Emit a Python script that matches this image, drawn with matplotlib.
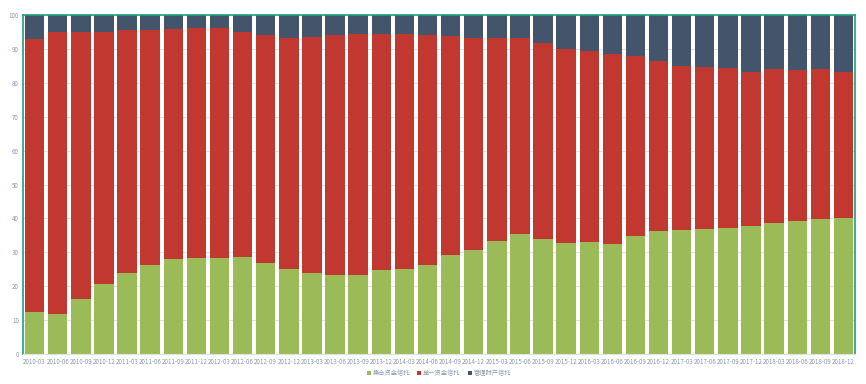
import matplotlib.pyplot as plt
import numpy as np

plt.rcParams['font.family'] = ['Noto Sans CJK SC', 'DejaVu Sans']

quarters = ['2010-03', '2010-06', '2010-09', '2010-12', '2011-03', '2011-06', '2011-09', '2011-12',
            '2012-03', '2012-06', '2012-09', '2012-12', '2013-03', '2013-06', '2013-09', '2013-12',
            '2014-03', '2014-06', '2014-09', '2014-12', '2015-03', '2015-06', '2015-09', '2015-12',
            '2016-03', '2016-06', '2016-09', '2016-12', '2017-03', '2017-06', '2017-09', '2017-12',
            '2018-03', '2018-06', '2018-09', '2018-12']

# 集合资金信托 share (%)
jihe = [12.4, 11.9, 16.3, 20.7, 23.9, 26.3, 28.0, 28.3, 28.3, 28.6, 26.9, 25.1,
        23.9, 23.3, 23.3, 24.8, 25.1, 26.3, 29.2, 30.7, 33.3, 35.4, 33.9, 32.7,
        33.0, 32.5, 34.8, 36.3, 36.6, 36.9, 37.2, 37.7, 38.6, 39.2, 39.8, 40.1]
# cumulative top of 单一资金信托 (%)
danyi_top = [92.9, 95.1, 95.1, 95.1, 95.7, 95.7, 95.9, 96.3, 96.3, 95.1, 94.1, 93.3,
             93.5, 94.1, 94.5, 94.5, 94.5, 94.1, 93.9, 93.3, 93.3, 93.3, 91.8, 90.0,
             89.4, 88.6, 88.0, 86.3, 85.1, 84.7, 84.5, 83.3, 84.1, 83.9, 84.1, 83.3]

jihe = np.array(jihe)
danyi = np.array(danyi_top) - jihe
guanli = 100 - np.array(danyi_top)

green = '#9bbb59'
red = '#c0382f'
navy = '#44546a'
tick_color = '#8e9ab0'

fig = plt.figure(figsize=(8.66, 3.84), dpi=100)
ax = fig.add_axes([0.0266, 0.078, 0.9607, 0.8828])

x = np.arange(len(quarters))
w = 0.84
ax.bar(x, jihe, w, color=green, label='集合资金信托', zorder=2)
ax.bar(x, danyi, w, bottom=jihe, color=red, label='单一资金信托', zorder=2)
ax.bar(x, guanli, w, bottom=jihe + danyi, color=navy, label='管理财产信托', zorder=2)

ax.set_xlim(-0.5, len(quarters) - 0.5)
ax.set_ylim(0, 100)
ax.set_yticks(np.arange(0, 101, 10))
ax.set_xticks(x)
ax.set_xticklabels(quarters)
ax.tick_params(axis='both', labelsize=4.5, colors=tick_color, length=0, pad=3)
ax.grid(axis='y', color='#e2e2e2', linewidth=0.8, zorder=0)

for s in ['left', 'top', 'right']:
    ax.spines[s].set_color('#1f9e80')
    ax.spines[s].set_linewidth(1.2)
ax.spines['bottom'].set_color('#e0e0e0')

ax.legend(loc='upper center', bbox_to_anchor=(0.5, -0.027), ncol=3, frameon=False,
          fontsize=4.5, labelcolor=tick_color, handlelength=0.6, handleheight=0.6,
          handletextpad=0.3, columnspacing=1.2)

fig.savefig('out.png', dpi=100)
